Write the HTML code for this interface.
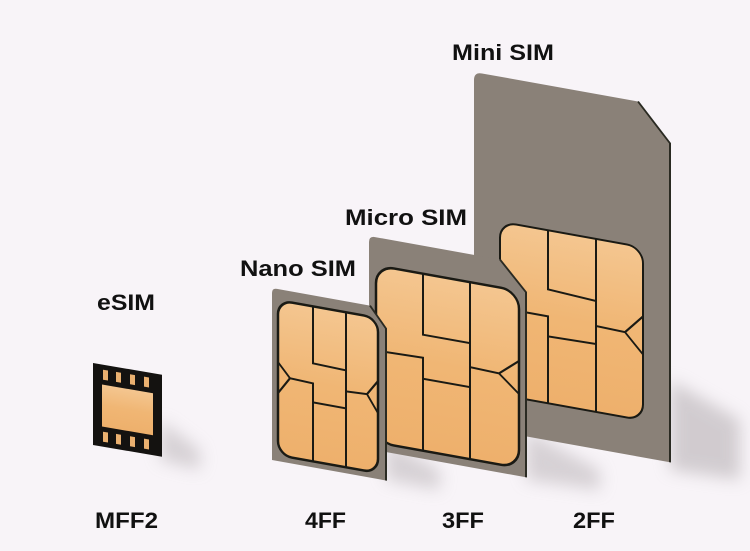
<!DOCTYPE html>
<html><head><meta charset="utf-8"><style>
html,body{margin:0;padding:0;background:#f8f4f8;}
svg{display:block;}
text{font-family:"Liberation Sans",sans-serif;font-weight:bold;font-size:22px;fill:#111;}
</style></head><body>
<svg width="750" height="551" viewBox="0 0 750 551" xmlns="http://www.w3.org/2000/svg">
<defs>
<linearGradient id="gold" x1="0" y1="0" x2="0" y2="1">
<stop offset="0" stop-color="#f4c690"/><stop offset="0.5" stop-color="#f0b674"/><stop offset="1" stop-color="#eeb06c"/>
</linearGradient>
<filter id="blur" x="-50%" y="-50%" width="200%" height="200%"><feGaussianBlur stdDeviation="8"/></filter>
</defs>
<rect width="750" height="551" fill="#f8f4f8"/>

<!-- shadows -->
<polygon points="670,380 740,420 740,480 670,470" fill="#c8c2c6" filter="url(#blur)" opacity="0.8"/>
<polygon points="526,430 600,470 600,490 526,480" fill="#c8c2c6" filter="url(#blur)" opacity="0.7"/>
<polygon points="386,440 440,470 440,490 386,480" fill="#c8c2c6" filter="url(#blur)" opacity="0.7"/>
<polygon points="160,420 200,450 200,470 160,460" fill="#c8c2c6" filter="url(#blur)" opacity="0.7"/>

<!-- Mini SIM -->
<g transform="matrix(1,0.18,0,1,474,72)">
<path d="M8,0 L164,0 L196,36 L196,355 L0,355 L0,8 Q0,0 8,0Z" fill="#8a8178"/>
<path d="M164,0 L196,36 L196,355" fill="none" stroke="#2a2a22" stroke-width="2"/>
<g transform="translate(26,145)">
<rect x="0" y="0" width="143" height="173" rx="16" fill="url(#gold)" stroke="#1a1a14" stroke-width="2"/>
<g fill="none" stroke="#1a1a14" stroke-width="2">
<path d="M48,0 V59 L96,62"/><path d="M96,0 V173"/>
<path d="M0,86 L48,86 V173"/><path d="M48,106 L96,105"/>
<path d="M143,69 L125,88 L143,107 M125,88 L96,87"/>
</g></g>
</g>

<!-- Micro SIM -->
<g transform="matrix(1,0.18,0,1,369,236)">
<path d="M6,0 L131,0 L157,28 L157,213 L0,213 L0,6 Q0,0 6,0Z" fill="#8a8178"/>
<path d="M131,0 L157,28 L157,213" fill="none" stroke="#2a2a22" stroke-width="2"/>
<g transform="translate(7,28)">
<rect x="0" y="0" width="143" height="177" rx="18" fill="url(#gold)" stroke="#1a1a14" stroke-width="2.5"/>
<g fill="none" stroke="#1a1a14" stroke-width="2">
<path d="M47,0 V61 L94,61"/><path d="M94,0 V177"/>
<path d="M2,76 L8,85 L2,95 M8,85 L47,84 V177"/><path d="M47,105 L94,105"/>
<path d="M143,70 L123,86 L143,103 M123,86 L94,85"/>
</g></g>
</g>

<!-- Nano SIM -->
<g transform="matrix(1,0.18,0,1,272,288)">
<path d="M5,0 L98,0 L114,20 L114,172 L0,172 L0,5 Q0,0 5,0Z" fill="#8a8178"/>
<path d="M98,0 L114,20 L114,172" fill="none" stroke="#2a2a22" stroke-width="2"/>
<g transform="translate(6,11)">
<rect x="0" y="0" width="100" height="155" rx="14" fill="url(#gold)" stroke="#1a1a14" stroke-width="2.5"/>
<g fill="none" stroke="#1a1a14" stroke-width="2">
<path d="M35,0 V57 L68,58"/><path d="M68,0 V155"/>
<path d="M0,62 L12,76 L0,93 M12,76 L35,77 V155"/><path d="M35,96 L68,96"/>
<path d="M100,63 L89,78 L100,95 M89,78 L68,79"/>
</g></g>
</g>

<!-- eSIM -->
<g transform="matrix(1,0.17,0,1,93,363)">
<rect x="0" y="0" width="69" height="82" fill="#141210"/>
<rect x="9" y="20" width="51" height="42" fill="url(#gold)"/>
<g fill="#eab070">
<rect x="10" y="5" width="5" height="10"/><rect x="23" y="5" width="5" height="10"/><rect x="37" y="5" width="5" height="10"/><rect x="51" y="5" width="5" height="10"/>
<rect x="10" y="67" width="5" height="10"/><rect x="23" y="67" width="5" height="10"/><rect x="37" y="67" width="5" height="10"/><rect x="51" y="67" width="5" height="10"/>
</g>
</g>

<text x="452" y="60" textLength="102" lengthAdjust="spacingAndGlyphs">Mini SIM</text>
<text x="345" y="225" textLength="122" lengthAdjust="spacingAndGlyphs">Micro SIM</text>
<text x="240" y="276" textLength="116" lengthAdjust="spacingAndGlyphs">Nano SIM</text>
<text x="97" y="310" textLength="58" lengthAdjust="spacingAndGlyphs">eSIM</text>
<text x="95" y="528" textLength="63" lengthAdjust="spacingAndGlyphs">MFF2</text>
<text x="305" y="528" textLength="41" lengthAdjust="spacingAndGlyphs">4FF</text>
<text x="442" y="528" textLength="42" lengthAdjust="spacingAndGlyphs">3FF</text>
<text x="573" y="528" textLength="42" lengthAdjust="spacingAndGlyphs">2FF</text>
</svg>
</body></html>
